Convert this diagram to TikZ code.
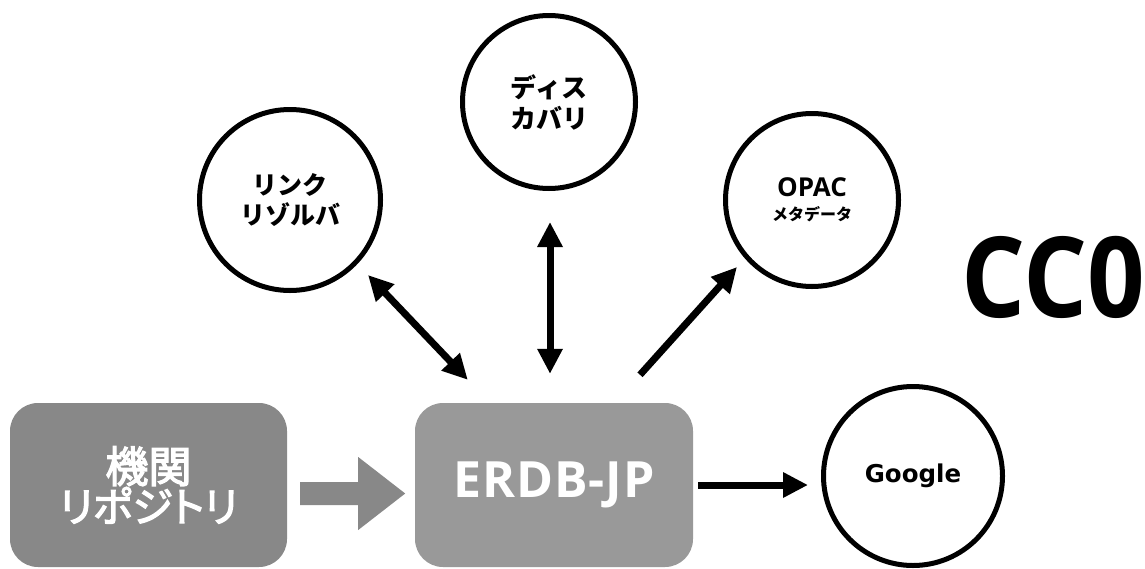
\documentclass[tikz,border=0pt]{standalone}
\usepackage{fontspec}
\newfontfamily\jp{Noto Sans CJK JP}
\newfontfamily\jpm{Noto Sans CJK JP}[FakeBold=3]
\newfontfamily\jpmp{Noto Sans CJK JP}[FakeBold=3,RawFeature=+palt]
\newfontfamily\osans{Open Sans}
\newfontfamily\osansN{Open Sans}[FakeStretch=0.9]
\newfontfamily\osansL{Open Sans}[LetterSpace=2]
\newfontfamily\dvs{DejaVu Sans}
\usetikzlibrary{arrows.meta,calc}
\definecolor{gA}{HTML}{888888}
\definecolor{gB}{HTML}{999999}
\begin{document}
\begin{tikzpicture}[x=1pt,y=-1pt,
  grbox/.style={rounded corners=28pt, minimum width=277pt, minimum height=164pt, text=white, inner sep=0pt, align=center},
  ring/.style={circle, draw=black, line width=5pt, inner sep=0pt, align=center},
  arr/.style={line width=7pt, -{Triangle[length=25pt,width=24pt]}},
  dbl/.style={line width=7pt, {Triangle[length=25pt,width=24pt]}-{Triangle[length=25pt,width=24pt]}},
]
\useasboundingbox (0,0) rectangle (1145,568);
\fill[white] (0,0) rectangle (1145,568);

\node[grbox, fill=gA] (repo) at (148.5,485)
  {{\jpm\fontsize{43}{50}\selectfont 機関}\\{\jpmp\fontsize{41}{50}\selectfont リポジトリ}};
\node[grbox, fill=gB, minimum width=278pt, font=\osansL\bfseries\fontsize{50}{54}\selectfont] (erdb) at (554,485) {ERDB-JP};

\node[ring, minimum size=181pt, font=\jp\bfseries\fontsize{25}{30}\selectfont] (link) at (290,200) {リンク\\リゾルバ};
\node[ring, minimum size=173pt, font=\jp\bfseries\fontsize{26}{31}\selectfont] (disc) at (549,102) {ディス\\カバリ};
\node[ring, minimum size=173pt, font=\fontsize{16}{24}\selectfont] (opac) at (812,200)
  {{\osans\bfseries\fontsize{26}{28}\selectfont OPAC}\\{\jp\bfseries\fontsize{16}{24}\selectfont メタデータ}};
\node[ring, minimum size=179pt, font=\dvs\bfseries\fontsize{24.5}{28}\selectfont] (google) at (913,476) {Google};

\node[anchor=west, inner sep=0pt, font=\osansN\bfseries\fontsize{112}{112}\selectfont] (cc) at (961,277) {CC0};

\fill[gA] ($(repo.east)+(13,-3)$) -- ++(58,0) -- ++(0,-25) -- ++(47,36.5) -- ++(-47,36.5) -- ++(0,-25) -- ++(-58,0) -- cycle;

\draw[dbl] ($(link.center)+(78,75)$) -- ($(erdb.north west)+(53,-23)$);
\draw[dbl] ($(disc.center)+(1,120)$) -- ($(erdb.north)+(-4,-29)$);
\draw[arr] ($(erdb.north)+(86,-28)$) -- ($(opac.center)+(-75,67)$);
\draw[arr] ($(erdb.east)+(5,0)$) -- ($(google.center)+(-105,9)$);
\end{tikzpicture}
\end{document}
